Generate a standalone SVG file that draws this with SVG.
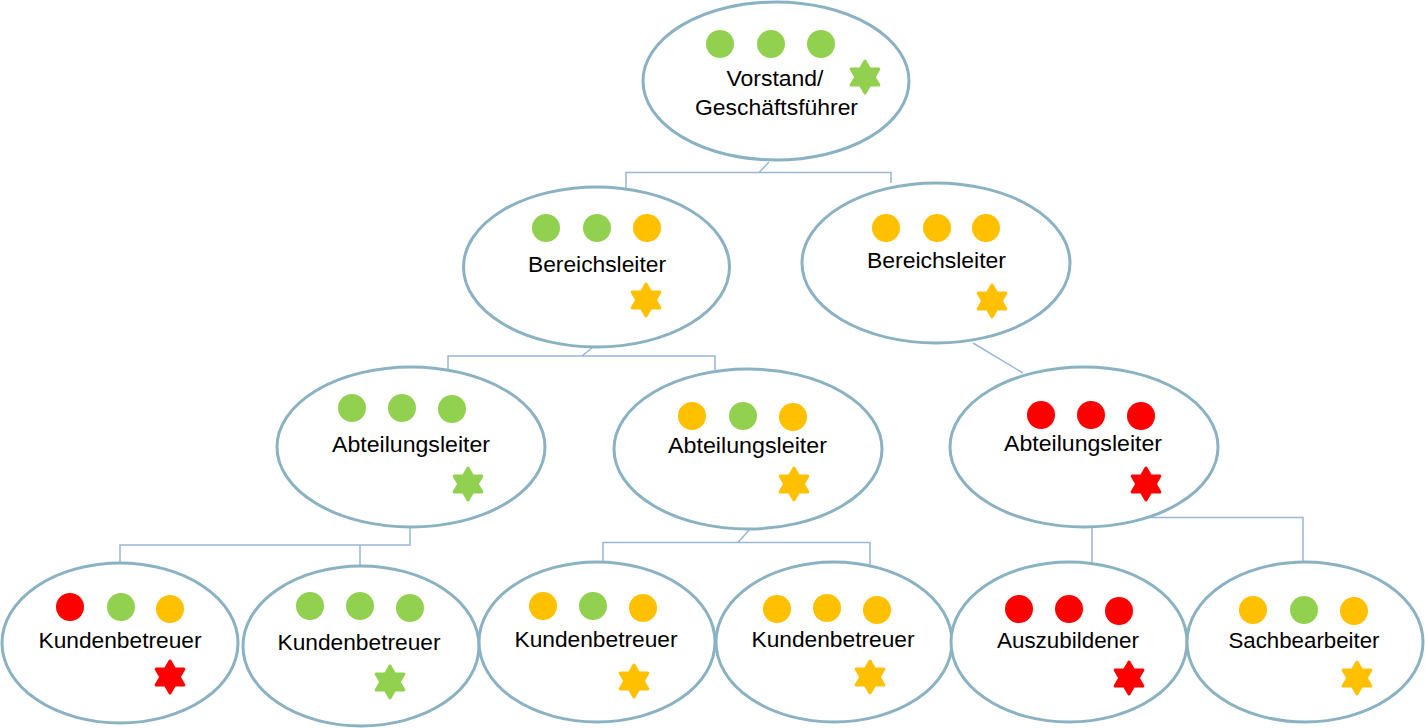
<svg xmlns="http://www.w3.org/2000/svg" xmlns:xlink="http://www.w3.org/1999/xlink" width="1425" height="728" viewBox="0 0 1425 728">
<style>
.node ellipse{fill:#fff;stroke:#8AB2C3;stroke-width:3}
.lbl{font-family:"Liberation Sans",Arial,sans-serif;font-size:22px;fill:#000;text-anchor:middle}
.g{fill:#92D050}.o{fill:#FFC000}.r{fill:#FF0000}
.sg{fill:#92D050;stroke:#92D050}.so{fill:#FFC000;stroke:#FFC000}.sr{fill:#FF0000;stroke:#FF0000}
#connectors path{fill:none;stroke:#9AB6D6;stroke-width:1.5}
</style>
<defs>
<polygon id="star" stroke-width="3" stroke-linejoin="round" points="0,-16 4.62,-8 13.86,-8 9.24,0 13.86,8 4.62,8 0,16 -4.62,8 -13.86,8 -9.24,0 -13.86,-8 -4.62,-8"/>
</defs>
<rect width="1425" height="728" fill="#fff"/>
<g id="connectors">
<path d="M769,162 L759,172.5 M626,190 V172.5 H891 V183"/>
<path d="M593,347 L582,356 M448,370 V356 H715 V370"/>
<path d="M973,343 L1023,373"/>
<path d="M410,527 V545 H120 V563 M360,545 V566"/>
<path d="M750,529 L738,542.5 M603,563 V542.5 H870 V565"/>
<path d="M1092,526 V562 M1148,517.5 H1303 V562"/>
</g>
<g id="n-vorstand" class="node">
<ellipse cx="776" cy="81" rx="133" ry="79"/>
<circle class="g" cx="720" cy="44" r="14"/><circle class="g" cx="771" cy="44" r="14"/><circle class="g" cx="821" cy="44" r="14"/>
<use href="#star" class="sg" x="865" y="77"/>
<text class="lbl" x="775" y="86" textLength="97" lengthAdjust="spacingAndGlyphs">Vorstand/</text>
<text class="lbl" x="776.5" y="115" textLength="163" lengthAdjust="spacingAndGlyphs">Geschäftsführer</text>
</g>
<g id="n-bereich1" class="node">
<ellipse cx="596.5" cy="267" rx="133" ry="80"/>
<circle class="g" cx="546" cy="228" r="14"/><circle class="g" cx="597" cy="228" r="14"/><circle class="o" cx="647" cy="228" r="14"/>
<use href="#star" class="so" x="646" y="300"/>
<text class="lbl" x="597" y="272" textLength="138" lengthAdjust="spacingAndGlyphs">Bereichsleiter</text>
</g>
<g id="n-bereich2" class="node">
<ellipse cx="936" cy="263" rx="134" ry="80"/>
<circle class="o" cx="886" cy="228" r="14"/><circle class="o" cx="937" cy="228" r="14"/><circle class="o" cx="986" cy="228" r="14"/>
<use href="#star" class="so" x="992" y="301"/>
<text class="lbl" x="936.5" y="268" textLength="139" lengthAdjust="spacingAndGlyphs">Bereichsleiter</text>
</g>
<g id="n-abteil1" class="node">
<ellipse cx="411" cy="447" rx="134" ry="80"/>
<circle class="g" cx="352" cy="408" r="14"/><circle class="g" cx="402" cy="408" r="14"/><circle class="g" cx="452" cy="409" r="14"/>
<use href="#star" class="sg" x="468" y="484"/>
<text class="lbl" x="411" y="452" textLength="158" lengthAdjust="spacingAndGlyphs">Abteilungsleiter</text>
</g>
<g id="n-abteil2" class="node">
<ellipse cx="748" cy="449" rx="134" ry="80"/>
<circle class="o" cx="692" cy="416" r="14"/><circle class="g" cx="743" cy="416" r="14"/><circle class="o" cx="793" cy="417" r="14"/>
<use href="#star" class="so" x="794" y="484"/>
<text class="lbl" x="747.5" y="453" textLength="159" lengthAdjust="spacingAndGlyphs">Abteilungsleiter</text>
</g>
<g id="n-abteil3" class="node">
<ellipse cx="1084" cy="447" rx="134" ry="80"/>
<circle class="r" cx="1041" cy="415" r="14"/><circle class="r" cx="1091" cy="415" r="14"/><circle class="r" cx="1141" cy="416" r="14"/>
<use href="#star" class="sr" x="1146" y="484"/>
<text class="lbl" x="1083" y="451" textLength="158" lengthAdjust="spacingAndGlyphs">Abteilungsleiter</text>
</g>
<g id="n-kunden1" class="node">
<ellipse cx="120" cy="643" rx="118" ry="80"/>
<circle class="r" cx="70" cy="607" r="14"/><circle class="g" cx="121" cy="607" r="14"/><circle class="o" cx="170" cy="609" r="14"/>
<use href="#star" class="sr" x="170" y="677"/>
<text class="lbl" x="120" y="648" textLength="163" lengthAdjust="spacingAndGlyphs">Kundenbetreuer</text>
</g>
<g id="n-kunden2" class="node">
<ellipse cx="361" cy="646" rx="118" ry="80"/>
<circle class="g" cx="310" cy="606" r="14"/><circle class="g" cx="360" cy="606" r="14"/><circle class="g" cx="410" cy="608" r="14"/>
<use href="#star" class="sg" x="390" y="682"/>
<text class="lbl" x="359" y="650" textLength="163" lengthAdjust="spacingAndGlyphs">Kundenbetreuer</text>
</g>
<g id="n-kunden3" class="node">
<ellipse cx="597" cy="642" rx="118" ry="80"/>
<circle class="o" cx="543" cy="606" r="14"/><circle class="g" cx="593" cy="606" r="14"/><circle class="o" cx="643" cy="608" r="14"/>
<use href="#star" class="so" x="634" y="681"/>
<text class="lbl" x="596" y="647" textLength="163" lengthAdjust="spacingAndGlyphs">Kundenbetreuer</text>
</g>
<g id="n-kunden4" class="node">
<ellipse cx="834" cy="642" rx="118" ry="80"/>
<circle class="o" cx="777" cy="609" r="14"/><circle class="o" cx="827" cy="608" r="14"/><circle class="o" cx="877" cy="610" r="14"/>
<use href="#star" class="so" x="870" y="677"/>
<text class="lbl" x="833" y="647" textLength="163" lengthAdjust="spacingAndGlyphs">Kundenbetreuer</text>
</g>
<g id="n-azubi" class="node">
<ellipse cx="1069" cy="642" rx="118" ry="80"/>
<circle class="r" cx="1019" cy="609" r="14"/><circle class="r" cx="1069" cy="609" r="14"/><circle class="r" cx="1119" cy="611" r="14"/>
<use href="#star" class="sr" x="1129" y="678"/>
<text class="lbl" x="1068" y="648" textLength="142" lengthAdjust="spacingAndGlyphs">Auszubildener</text>
</g>
<g id="n-sachb" class="node">
<ellipse cx="1305" cy="642" rx="118" ry="80"/>
<circle class="o" cx="1253" cy="610" r="14"/><circle class="g" cx="1304" cy="610" r="14"/><circle class="o" cx="1354" cy="611" r="14"/>
<use href="#star" class="so" x="1357" y="678"/>
<text class="lbl" x="1304" y="648" textLength="151" lengthAdjust="spacingAndGlyphs">Sachbearbeiter</text>
</g>
</svg>
